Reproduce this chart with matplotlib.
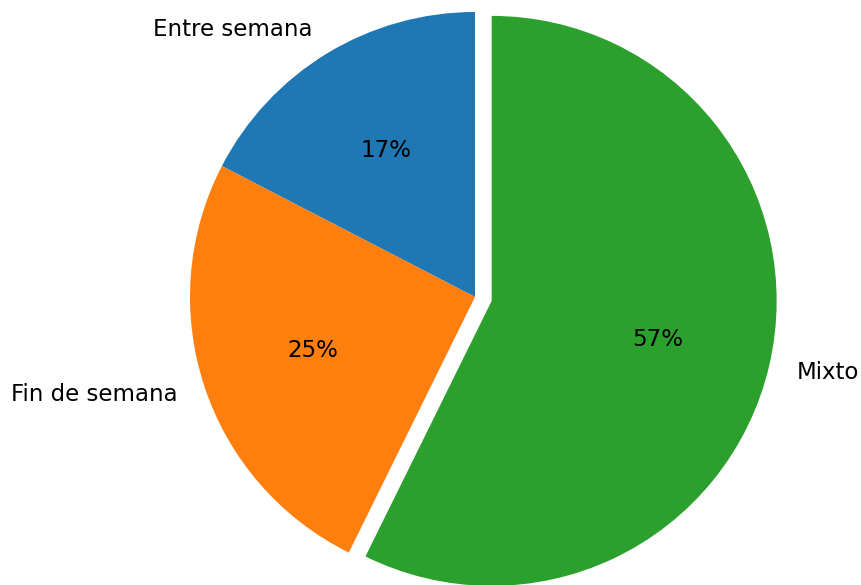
import matplotlib
matplotlib.use("Agg")
import matplotlib.pyplot as plt

labels = ["Entre semana", "Fin de semana", "Mixto"]
values = [17.4, 25.3, 57.3]
explode = [0, 0, 0.06]

fig = plt.figure(figsize=(8.61, 5.85), dpi=100)
ax = fig.add_axes([0, 0, 1, 1])
ax.pie(values, labels=labels, explode=explode, autopct="%1.0f%%",
       startangle=90, textprops={"fontsize": 16.5})
scale = 285.0
xmin = -475 / scale
ax.set_xlim(xmin, xmin + 861 / scale)
ymax = 297 / scale
ax.set_ylim(ymax - 585 / scale, ymax)
ax.set_aspect("auto")
fig.savefig("out.png", dpi=100)
